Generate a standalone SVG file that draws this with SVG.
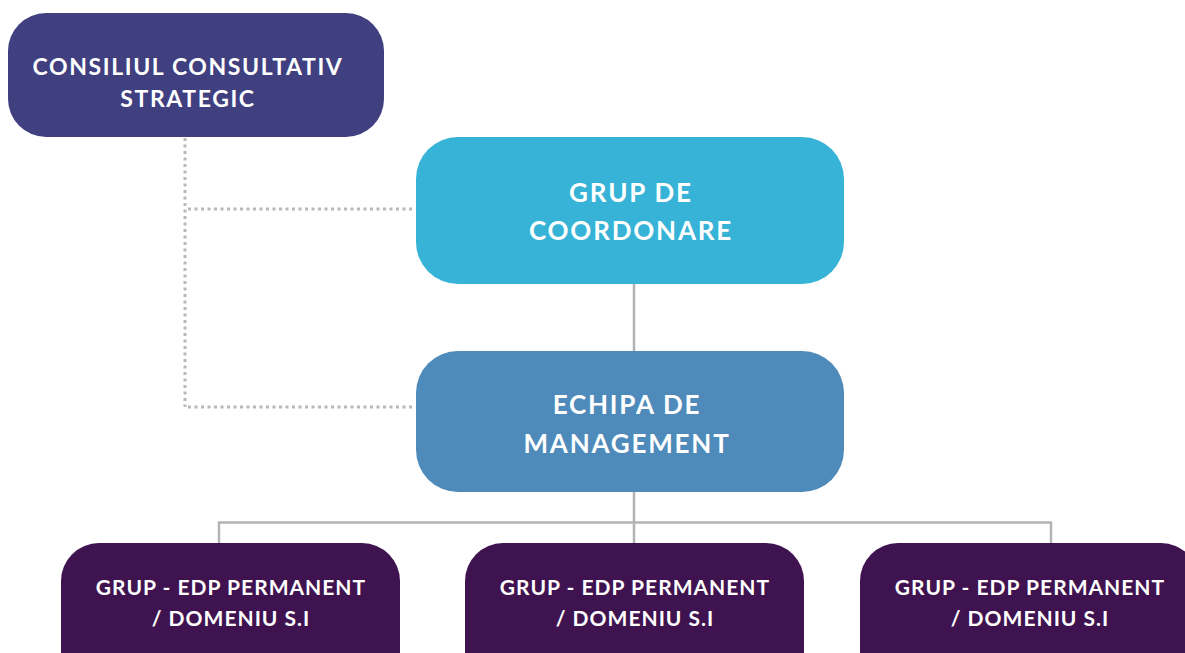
<svg xmlns="http://www.w3.org/2000/svg" width="1185" height="653" viewBox="0 0 1185 653">
<style>
.lbl{font-family:Lato,"Open Sans","Liberation Sans",sans-serif;font-weight:bold;fill:#ffffff;text-anchor:middle}
.solid{fill:none;stroke:#b3b3b3;stroke-width:2.5}
.dot{fill:none;stroke:#b9b9b9;stroke-width:3;stroke-dasharray:3 3.5}
</style>
<rect width="1185" height="653" fill="#ffffff"/>
<g id="connectors">
<path class="dot" d="M185 138 V407"/>
<path class="dot" d="M188 209 H415"/>
<path class="dot" d="M188 407 H415"/>
<path class="solid" d="M634 284 V351"/>
<path class="solid" d="M634 492 V544"/>
<path class="solid" d="M219 544 V522.5 H1051 V544"/>
</g>
<g id="consiliul">
<rect x="8" y="13" width="376" height="124" rx="38" fill="#403f80"/>
<text class="lbl" font-size="23" letter-spacing="1.6" x="188" y="75">CONSILIUL CONSULTATIV</text>
<text class="lbl" font-size="23" letter-spacing="1.6" x="188" y="107">STRATEGIC</text>
</g>
<g id="coordonare">
<rect x="416" y="137" width="428" height="147" rx="42" fill="#36b3d6"/>
<text class="lbl" font-size="26" letter-spacing="1.8" x="631" y="202">GRUP DE</text>
<text class="lbl" font-size="26" letter-spacing="1.8" x="631" y="240">COORDONARE</text>
</g>
<g id="management">
<rect x="416" y="351" width="428" height="141" rx="42" fill="#4e8aba"/>
<text class="lbl" font-size="26" letter-spacing="1.8" x="627" y="414">ECHIPA DE</text>
<text class="lbl" font-size="26" letter-spacing="1.8" x="627" y="453">MANAGEMENT</text>
</g>
<g id="grup1">
<rect x="61" y="543" width="339" height="150" rx="38" fill="#3f1350"/>
<text class="lbl" font-size="21" letter-spacing="1" x="231" y="595">GRUP - EDP PERMANENT</text>
<text class="lbl" font-size="21" letter-spacing="1" x="231" y="626">/ DOMENIU S.I</text>
</g>
<g id="grup2">
<rect x="465" y="543" width="339" height="150" rx="38" fill="#3f1350"/>
<text class="lbl" font-size="21" letter-spacing="1" x="635" y="595">GRUP - EDP PERMANENT</text>
<text class="lbl" font-size="21" letter-spacing="1" x="635" y="626">/ DOMENIU S.I</text>
</g>
<g id="grup3">
<rect x="860" y="543" width="339" height="150" rx="38" fill="#3f1350"/>
<text class="lbl" font-size="21" letter-spacing="1" x="1030" y="595">GRUP - EDP PERMANENT</text>
<text class="lbl" font-size="21" letter-spacing="1" x="1030" y="626">/ DOMENIU S.I</text>
</g>
</svg>
